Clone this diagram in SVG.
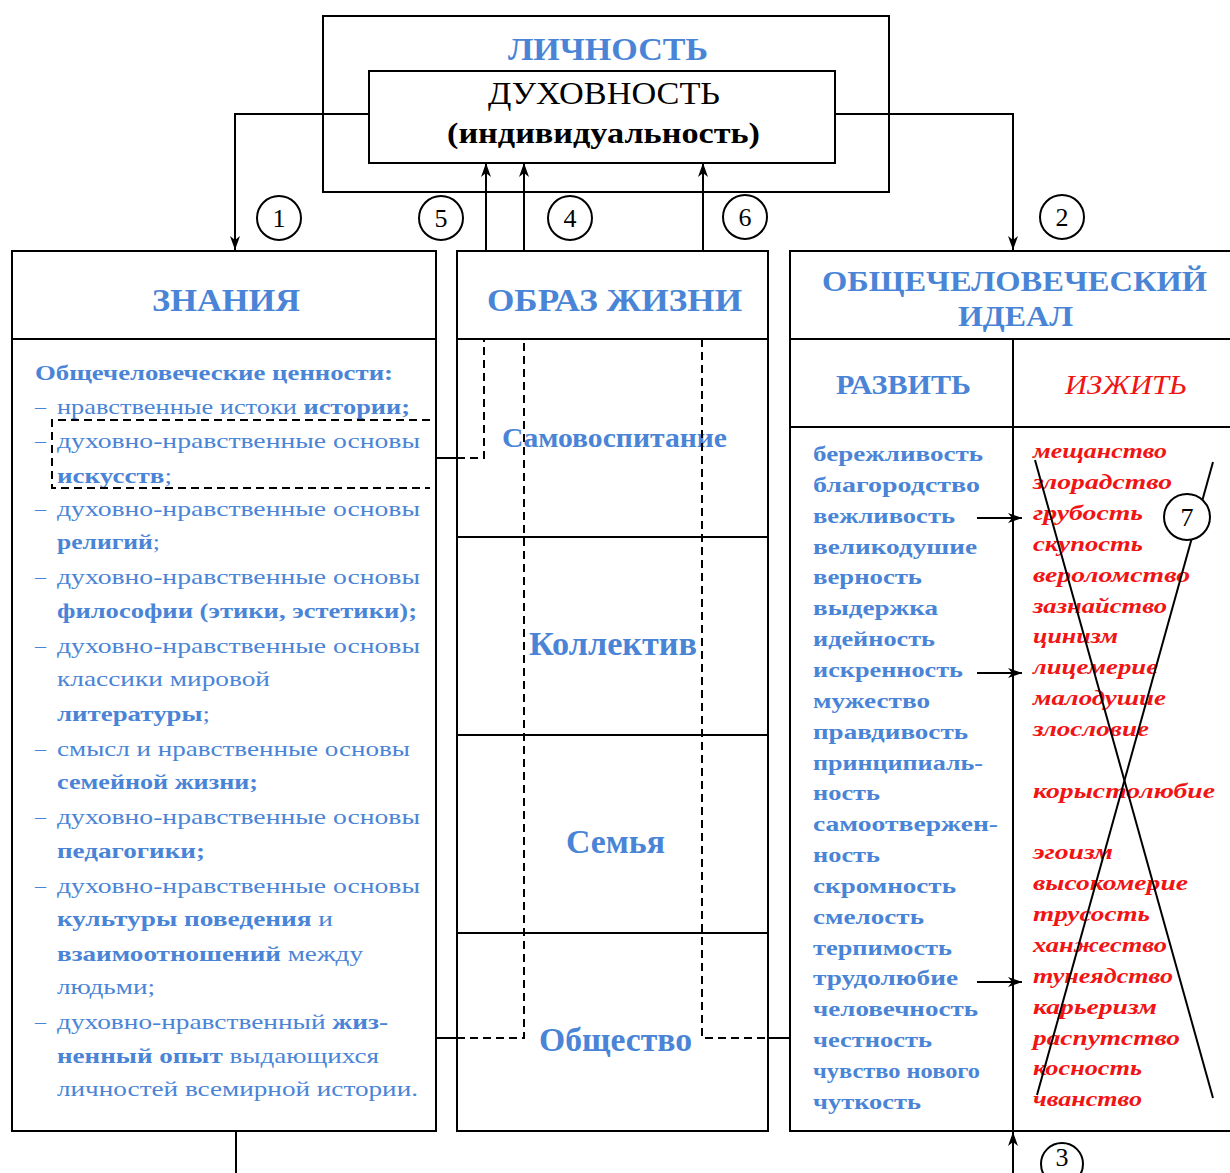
<svg xmlns="http://www.w3.org/2000/svg" width="1230" height="1173" viewBox="0 0 1230 1173">
<defs>
<marker id="arr" markerUnits="userSpaceOnUse" markerWidth="16" markerHeight="12" refX="14" refY="5" orient="auto">
<path d="M0,0 L14,5 L0,10 L4,5 z" fill="#000"/>
</marker>
<style>
.box{fill:#fff;stroke:#000;stroke-width:2}
.ln{fill:none;stroke:#000;stroke-width:2}
.dash{fill:none;stroke:#000;stroke-width:2;stroke-dasharray:8 5}
.circ{fill:#fff;stroke:#000;stroke-width:2}
.num{font-family:"Liberation Serif",serif;font-size:26px;fill:#000;text-anchor:middle}
.hd{font-family:"Liberation Serif",serif;font-weight:bold;fill:#4a84d6}
.lt{font-family:"Liberation Serif",serif;font-size:22px;fill:#4a84d6}
.b{font-weight:bold}
.rw{font-family:"Liberation Serif",serif;font-size:21px;font-weight:bold;fill:#4a84d6}
.red{font-family:"Liberation Serif",serif;font-size:21px;font-style:italic;font-weight:bold;fill:#f01414}
</style>
</defs>

<g id="lichnost">
<rect class="box" x="323" y="16" width="566" height="176"/>
<text class="hd" x="508" y="60" font-size="32" textLength="200" lengthAdjust="spacingAndGlyphs">ЛИЧНОСТЬ</text>
</g>
<g id="duhovnost">
<rect class="box" x="369" y="71" width="466" height="92"/>
<text x="488" y="104" font-family="Liberation Serif,serif" font-size="32" fill="#000" textLength="232" lengthAdjust="spacingAndGlyphs">ДУХОВНОСТЬ</text>
<text x="447" y="143" font-family="Liberation Serif,serif" font-size="30" font-weight="bold" fill="#000" textLength="313" lengthAdjust="spacingAndGlyphs">(индивидуальность)</text>
</g>

<g id="znaniya">
<rect class="box" x="12" y="251" width="424" height="880"/>
<line class="ln" x1="12" y1="339" x2="436" y2="339"/>
<text class="hd" x="152" y="311" font-size="32" textLength="148" lengthAdjust="spacingAndGlyphs">ЗНАНИЯ</text>
<text class="lt b" x="35" y="380" textLength="358" lengthAdjust="spacingAndGlyphs">Общечеловеческие ценности:</text>
<text class="lt" x="35" y="414">–</text>
<text class="lt" x="57" y="414" textLength="353" lengthAdjust="spacingAndGlyphs">нравственные истоки <tspan class="b">истории;</tspan></text>
<text class="lt" x="35" y="448">–</text>
<text class="lt" x="57" y="448" textLength="363" lengthAdjust="spacingAndGlyphs">духовно-нравственные основы</text>
<text class="lt" x="57" y="483" textLength="115" lengthAdjust="spacingAndGlyphs"><tspan class="b">искусств</tspan>;</text>
<text class="lt" x="35" y="516">–</text>
<text class="lt" x="57" y="516" textLength="363" lengthAdjust="spacingAndGlyphs">духовно-нравственные основы</text>
<text class="lt" x="57" y="549" textLength="103" lengthAdjust="spacingAndGlyphs"><tspan class="b">религий</tspan>;</text>
<text class="lt" x="35" y="584">–</text>
<text class="lt" x="57" y="584" textLength="363" lengthAdjust="spacingAndGlyphs">духовно-нравственные основы</text>
<text class="lt b" x="57" y="618" textLength="360" lengthAdjust="spacingAndGlyphs">философии (этики, эстетики);</text>
<text class="lt" x="35" y="653">–</text>
<text class="lt" x="57" y="653" textLength="363" lengthAdjust="spacingAndGlyphs">духовно-нравственные основы</text>
<text class="lt" x="57" y="686" textLength="213" lengthAdjust="spacingAndGlyphs">классики мировой</text>
<text class="lt" x="57" y="721" textLength="153" lengthAdjust="spacingAndGlyphs"><tspan class="b">литературы</tspan>;</text>
<text class="lt" x="35" y="756">–</text>
<text class="lt" x="57" y="756" textLength="353" lengthAdjust="spacingAndGlyphs">смысл и нравственные основы</text>
<text class="lt b" x="57" y="789" textLength="201" lengthAdjust="spacingAndGlyphs">семейной жизни;</text>
<text class="lt" x="35" y="824">–</text>
<text class="lt" x="57" y="824" textLength="363" lengthAdjust="spacingAndGlyphs">духовно-нравственные основы</text>
<text class="lt b" x="57" y="858" textLength="148" lengthAdjust="spacingAndGlyphs">педагогики;</text>
<text class="lt" x="35" y="893">–</text>
<text class="lt" x="57" y="893" textLength="363" lengthAdjust="spacingAndGlyphs">духовно-нравственные основы</text>
<text class="lt" x="57" y="926" textLength="276" lengthAdjust="spacingAndGlyphs"><tspan class="b">культуры поведения</tspan> и</text>
<text class="lt" x="57" y="961" textLength="306" lengthAdjust="spacingAndGlyphs"><tspan class="b">взаимоотношений</tspan> между</text>
<text class="lt" x="57" y="994" textLength="98" lengthAdjust="spacingAndGlyphs">людьми;</text>
<text class="lt" x="35" y="1029">–</text>
<text class="lt" x="57" y="1029" textLength="331" lengthAdjust="spacingAndGlyphs">духовно-нравственный <tspan class="b">жиз-</tspan></text>
<text class="lt" x="57" y="1063" textLength="322" lengthAdjust="spacingAndGlyphs"><tspan class="b">ненный опыт</tspan> выдающихся</text>
<text class="lt" x="57" y="1096" textLength="361" lengthAdjust="spacingAndGlyphs">личностей всемирной истории.</text>
</g>

<g id="obraz-zhizni">
<rect class="box" x="457" y="251" width="311" height="880"/>
<line class="ln" x1="457" y1="339" x2="768" y2="339"/>
<line class="ln" x1="457" y1="537" x2="768" y2="537"/>
<line class="ln" x1="457" y1="735" x2="768" y2="735"/>
<line class="ln" x1="457" y1="933" x2="768" y2="933"/>
<text class="hd" x="487" y="311" font-size="32" textLength="255" lengthAdjust="spacingAndGlyphs">ОБРАЗ ЖИЗНИ</text>
</g>
<g id="samovospitanie"><text class="hd" x="502" y="447" font-size="28" textLength="225" lengthAdjust="spacingAndGlyphs">Самовоспитание</text></g>
<g id="kollektiv"><text class="hd" x="529" y="655" font-size="34" textLength="168" lengthAdjust="spacingAndGlyphs">Коллектив</text></g>
<g id="semya"><text class="hd" x="566" y="853" font-size="34" textLength="99" lengthAdjust="spacingAndGlyphs">Семья</text></g>
<g id="obshchestvo"><text class="hd" x="539" y="1051" font-size="34" textLength="153" lengthAdjust="spacingAndGlyphs">Общество</text></g>

<g id="ideal">
<rect class="box" x="790" y="251" width="445" height="880"/>
<line class="ln" x1="790" y1="339" x2="1235" y2="339"/>
<line class="ln" x1="790" y1="427" x2="1235" y2="427"/>
<line class="ln" x1="1013" y1="339" x2="1013" y2="1131"/>
<text class="hd" x="822" y="291" font-size="30" textLength="385" lengthAdjust="spacingAndGlyphs">ОБЩЕЧЕЛОВЕЧЕСКИЙ</text>
<text class="hd" x="958" y="326" font-size="30" textLength="115" lengthAdjust="spacingAndGlyphs">ИДЕАЛ</text>
</g>
<g id="razvit">
<text class="hd" x="836" y="394" font-size="28" textLength="135" lengthAdjust="spacingAndGlyphs">РАЗВИТЬ</text>
<text class="rw" x="813" y="461" textLength="170" lengthAdjust="spacingAndGlyphs">бережливость</text>
<text class="rw" x="813" y="492" textLength="167" lengthAdjust="spacingAndGlyphs">благородство</text>
<text class="rw" x="813" y="523" textLength="142" lengthAdjust="spacingAndGlyphs">вежливость</text>
<text class="rw" x="813" y="554" textLength="164" lengthAdjust="spacingAndGlyphs">великодушие</text>
<text class="rw" x="813" y="584" textLength="109" lengthAdjust="spacingAndGlyphs">верность</text>
<text class="rw" x="813" y="615" textLength="125" lengthAdjust="spacingAndGlyphs">выдержка</text>
<text class="rw" x="813" y="646" textLength="122" lengthAdjust="spacingAndGlyphs">идейность</text>
<text class="rw" x="813" y="677" textLength="150" lengthAdjust="spacingAndGlyphs">искренность</text>
<text class="rw" x="813" y="708" textLength="117" lengthAdjust="spacingAndGlyphs">мужество</text>
<text class="rw" x="813" y="739" textLength="155" lengthAdjust="spacingAndGlyphs">правдивость</text>
<text class="rw" x="813" y="770" textLength="170" lengthAdjust="spacingAndGlyphs">принципиаль-</text>
<text class="rw" x="813" y="800" textLength="67" lengthAdjust="spacingAndGlyphs">ность</text>
<text class="rw" x="813" y="831" textLength="185" lengthAdjust="spacingAndGlyphs">самоотвержен-</text>
<text class="rw" x="813" y="862" textLength="67" lengthAdjust="spacingAndGlyphs">ность</text>
<text class="rw" x="813" y="893" textLength="143" lengthAdjust="spacingAndGlyphs">скромность</text>
<text class="rw" x="813" y="924" textLength="111" lengthAdjust="spacingAndGlyphs">смелость</text>
<text class="rw" x="813" y="955" textLength="139" lengthAdjust="spacingAndGlyphs">терпимость</text>
<text class="rw" x="813" y="985" textLength="145" lengthAdjust="spacingAndGlyphs">трудолюбие</text>
<text class="rw" x="813" y="1016" textLength="165" lengthAdjust="spacingAndGlyphs">человечность</text>
<text class="rw" x="813" y="1047" textLength="119" lengthAdjust="spacingAndGlyphs">честность</text>
<text class="rw" x="813" y="1078" textLength="167" lengthAdjust="spacingAndGlyphs">чувство нового</text>
<text class="rw" x="813" y="1109" textLength="108" lengthAdjust="spacingAndGlyphs">чуткость</text>
</g>
<g id="izzhit">
<text x="1065" y="394" font-family="Liberation Serif,serif" font-size="28" font-style="italic" fill="#f01414" textLength="122" lengthAdjust="spacingAndGlyphs">ИЗЖИТЬ</text>
<text class="red" x="1033" y="458" textLength="134" lengthAdjust="spacingAndGlyphs">мещанство</text>
<text class="red" x="1033" y="489" textLength="139" lengthAdjust="spacingAndGlyphs">злорадство</text>
<text class="red" x="1033" y="520" textLength="110" lengthAdjust="spacingAndGlyphs">грубость</text>
<text class="red" x="1033" y="551" textLength="110" lengthAdjust="spacingAndGlyphs">скупость</text>
<text class="red" x="1033" y="582" textLength="157" lengthAdjust="spacingAndGlyphs">вероломство</text>
<text class="red" x="1033" y="613" textLength="134" lengthAdjust="spacingAndGlyphs">зазнайство</text>
<text class="red" x="1033" y="643" textLength="85" lengthAdjust="spacingAndGlyphs">цинизм</text>
<text class="red" x="1033" y="674" textLength="125" lengthAdjust="spacingAndGlyphs">лицемерие</text>
<text class="red" x="1033" y="705" textLength="133" lengthAdjust="spacingAndGlyphs">малодушие</text>
<text class="red" x="1033" y="736" textLength="116" lengthAdjust="spacingAndGlyphs">злословие</text>
<text class="red" x="1033" y="798" textLength="182" lengthAdjust="spacingAndGlyphs">корыстолюбие</text>
<text class="red" x="1033" y="859" textLength="80" lengthAdjust="spacingAndGlyphs">эгоизм</text>
<text class="red" x="1033" y="890" textLength="155" lengthAdjust="spacingAndGlyphs">высокомерие</text>
<text class="red" x="1033" y="921" textLength="117" lengthAdjust="spacingAndGlyphs">трусость</text>
<text class="red" x="1033" y="952" textLength="134" lengthAdjust="spacingAndGlyphs">ханжество</text>
<text class="red" x="1033" y="983" textLength="140" lengthAdjust="spacingAndGlyphs">тунеядство</text>
<text class="red" x="1033" y="1014" textLength="124" lengthAdjust="spacingAndGlyphs">карьеризм</text>
<text class="red" x="1033" y="1045" textLength="147" lengthAdjust="spacingAndGlyphs">распутство</text>
<text class="red" x="1033" y="1075" textLength="109" lengthAdjust="spacingAndGlyphs">косность</text>
<text class="red" x="1033" y="1106" textLength="109" lengthAdjust="spacingAndGlyphs">чванство</text>
</g>

<g id="connectors">
<polyline class="ln" points="369,114 235,114 235,250" marker-end="url(#arr)"/>
<polyline class="ln" points="835,114 1013,114 1013,250" marker-end="url(#arr)"/>
<line class="ln" x1="486" y1="251" x2="486" y2="163" marker-end="url(#arr)"/>
<line class="ln" x1="524" y1="251" x2="524" y2="163" marker-end="url(#arr)"/>
<line class="ln" x1="703" y1="251" x2="703" y2="163" marker-end="url(#arr)"/>
<line class="ln" x1="1013" y1="1173" x2="1013" y2="1132" marker-end="url(#arr)"/>
<line class="ln" x1="236" y1="1131" x2="236" y2="1173"/>
<polyline class="dash" points="430,420 52,420 52,488 430,488"/>
<line class="ln" x1="436" y1="458" x2="457" y2="458"/>
<polyline class="dash" points="457,458 484,458 484,339"/>
<line class="ln" x1="436" y1="1038" x2="457" y2="1038"/>
<polyline class="dash" points="457,1038 524,1038 524,339"/>
<polyline class="dash" points="702,339 702,1038 768,1038"/>
<line class="ln" x1="768" y1="1038" x2="790" y2="1038"/>
<line class="ln" x1="977" y1="518" x2="1022" y2="518" marker-end="url(#arr)"/>
<line class="ln" x1="977" y1="673" x2="1022" y2="673" marker-end="url(#arr)"/>
<line class="ln" x1="977" y1="982" x2="1022" y2="982" marker-end="url(#arr)"/>
<line class="ln" x1="1035" y1="460" x2="1213" y2="1098"/>
<line class="ln" x1="1213" y1="462" x2="1037" y2="1095"/>
</g>

<g id="labels">
<circle class="circ" cx="279" cy="218" r="22"/><text class="num" x="279" y="227">1</text>
<circle class="circ" cx="441" cy="218" r="22"/><text class="num" x="441" y="227">5</text>
<circle class="circ" cx="570" cy="218" r="22"/><text class="num" x="570" y="227">4</text>
<circle class="circ" cx="745" cy="217" r="22"/><text class="num" x="745" y="226">6</text>
<circle class="circ" cx="1062" cy="217" r="22"/><text class="num" x="1062" y="226">2</text>
<circle class="circ" cx="1187" cy="517" r="23"/><text class="num" x="1187" y="526">7</text>
<circle class="circ" cx="1062" cy="1164" r="21"/><text class="num" x="1062" y="1166" font-size="18">3</text>
</g>
</svg>
